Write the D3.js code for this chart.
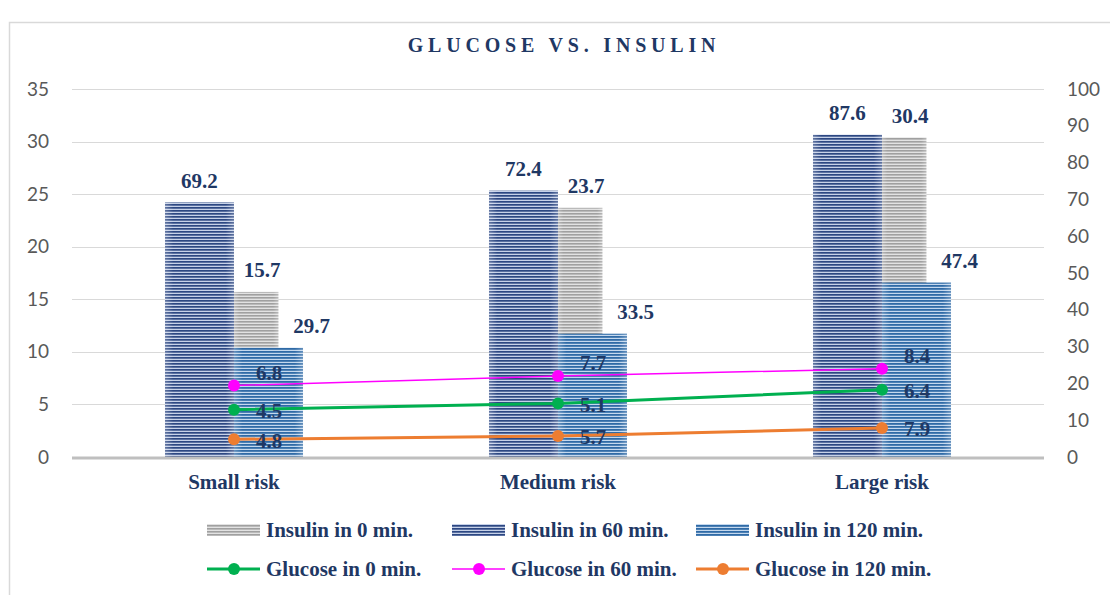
<!DOCTYPE html>
<html>
<head>
<meta charset="utf-8">
<script src="https://cdn.jsdelivr.net/npm/d3@7"></script>
<style>
  html, body { margin: 0; padding: 0; background: #ffffff; }
  svg { display: block; }
</style>
</head>
<body>
<svg id="chart" width="1110" height="595"></svg>
<script>
// ---- data ----
const categories = ["Small risk", "Medium risk", "Large risk"];
const insulin0 = [15.7, 23.7, 30.4];     // primary (left) axis
const insulin60 = [69.2, 72.4, 87.6];    // secondary (right) axis
const insulin120 = [29.7, 33.5, 47.4];   // secondary (right) axis
const glucose0 = [4.5, 5.1, 6.4];        // primary (left) axis
const glucose60 = [6.8, 7.7, 8.4];       // primary (left) axis
const glucose120 = [4.8, 5.7, 7.9];      // secondary (right) axis
const leftTicks = [0, 5, 10, 15, 20, 25, 30, 35];
const rightTicks = [0, 10, 20, 30, 40, 50, 60, 70, 80, 90, 100];
const titleText = "GLUCOSE VS. INSULIN";
const legendBars = ["Insulin in 0 min.", "Insulin in 60 min.", "Insulin in 120 min."];
const legendLines = ["Glucose in 0 min.", "Glucose in 60 min.", "Glucose in 120 min."];

// ---- layout ----
const W = 1110, H = 595;
const plot = { left: 72, right: 1044, top: 89, bottom: 457 };
const navy = "#1F3864";
const serif = "'Liberation Serif', 'Times New Roman', serif";
const sans = "Lato, 'Open Sans', sans-serif";

const svg = d3.select("#chart");
svg.append("rect").attr("width", W).attr("height", H).attr("fill", "#fff");
svg.append("rect").attr("x", 9.5).attr("y", 22.5).attr("width", W + 20).attr("height", H + 20)
  .attr("fill", "none").attr("stroke", "#D9D9D9").attr("stroke-width", 1.5);

// patterns
const defs = svg.append("defs");
function stripe(id, dark, light, darkH, period) {
  const p = defs.append("pattern").attr("id", id).attr("patternUnits", "userSpaceOnUse")
    .attr("width", 8).attr("height", period);
  p.append("rect").attr("width", 8).attr("height", period).attr("fill", light);
  p.append("rect").attr("width", 8).attr("height", darkH).attr("fill", dark);
}
stripe("pDark", "#2C4782", "#C6D1E8", 1.7, 3);
stripe("pGray", "#A0A0A0", "#E2E2E2", 1.6, 3);
stripe("pLight", "#2F6AA6", "#C4D8EE", 1.8, 3);
// soft edge shading
const g = defs.append("linearGradient").attr("id", "edge").attr("x1", 0).attr("x2", 1).attr("y1", 0).attr("y2", 0);
g.append("stop").attr("offset", "0%").attr("stop-color", "#fff").attr("stop-opacity", 0.25);
g.append("stop").attr("offset", "12%").attr("stop-color", "#fff").attr("stop-opacity", 0);
g.append("stop").attr("offset", "88%").attr("stop-color", "#fff").attr("stop-opacity", 0);
g.append("stop").attr("offset", "100%").attr("stop-color", "#fff").attr("stop-opacity", 0.25);

// scales
const x = d3.scaleBand().domain(categories).range([plot.left, plot.right]).padding(0);
const yL = d3.scaleLinear().domain([0, 35]).range([plot.bottom, plot.top]);
const yR = d3.scaleLinear().domain([0, 100]).range([plot.bottom, plot.top]);
const bw = x.bandwidth();
const cx = c => x(c) + bw / 2;
const wide = bw * 0.213;
const narrow = bw * 0.137;

// gridlines
svg.append("g").selectAll("line").data(leftTicks.filter(t => t > 0)).join("line")
  .attr("x1", plot.left).attr("x2", plot.right)
  .attr("y1", d => Math.round(yL(d)) + 0.5).attr("y2", d => Math.round(yL(d)) + 0.5)
  .attr("stroke", "#D9D9D9").attr("stroke-width", 1);

// left axis labels
const axL = svg.append("g").attr("transform", `translate(49,0)`)
  .call(d3.axisLeft(yL).tickValues(leftTicks).tickSize(0).tickPadding(0));
axL.select(".domain").remove();
axL.selectAll("text").attr("font-family", sans).attr("font-size", 19).attr("fill", "#595959");

// right axis labels
const axR = svg.append("g").attr("transform", `translate(1067,0)`)
  .call(d3.axisRight(yR).tickValues(rightTicks).tickSize(0).tickPadding(0));
axR.select(".domain").remove();
axR.selectAll("text").attr("font-family", sans).attr("font-size", 19).attr("fill", "#595959");

// bars
const bars = svg.append("g");
function drawBars(vals, scale, x0fn, w, fill) {
  const sel = bars.append("g");
  sel.selectAll("rect.b").data(vals).join("rect").attr("class", "b")
    .attr("x", (d, i) => x0fn(categories[i])).attr("width", w)
    .attr("y", d => scale(d)).attr("height", d => plot.bottom - scale(d))
    .attr("fill", `url(#${fill})`);
  sel.selectAll("rect.e").data(vals).join("rect").attr("class", "e")
    .attr("x", (d, i) => x0fn(categories[i])).attr("width", w)
    .attr("y", d => scale(d)).attr("height", d => plot.bottom - scale(d))
    .attr("fill", "url(#edge)");
}
drawBars(insulin60, yR, c => cx(c) - wide, wide, "pDark");
drawBars(insulin0, yL, c => cx(c), narrow, "pGray");
drawBars(insulin120, yR, c => cx(c), wide, "pLight");

// baseline
svg.append("line").attr("x1", plot.left).attr("x2", plot.right)
  .attr("y1", plot.bottom + 1).attr("y2", plot.bottom + 1)
  .attr("stroke", "#BFBFBF").attr("stroke-width", 3);

// bar labels
function barLabels(vals, scale, xfn) {
  svg.append("g").selectAll("text").data(vals).join("text")
    .attr("x", (d, i) => xfn(categories[i])).attr("y", d => scale(d) - 22)
    .attr("dy", "0.35em").attr("text-anchor", "middle")
    .attr("font-family", serif).attr("font-weight", "bold").attr("font-size", 21)
    .attr("fill", navy).text(d => d.toFixed(1));
}
barLabels(insulin60, yR, c => cx(c) - wide / 2);
barLabels(insulin0, yL, c => cx(c) + narrow / 2 + 6);
barLabels(insulin120, yR, c => cx(c) + wide / 2 + 43);

// lines
const lineSeries = [
  { vals: glucose0, scale: yL, color: "#00B050", width: 3, dy: 1 },
  { vals: glucose60, scale: yL, color: "#FF00FF", width: 1.5, dy: -13 },
  { vals: glucose120, scale: yR, color: "#ED7D31", width: 3, dy: 1 }
];
lineSeries.forEach(s => {
  const line = d3.line().x((d, i) => cx(categories[i])).y(d => s.scale(d));
  svg.append("path").datum(s.vals).attr("d", line).attr("fill", "none")
    .attr("stroke", s.color).attr("stroke-width", s.width);
  svg.append("g").selectAll("circle").data(s.vals).join("circle")
    .attr("cx", (d, i) => cx(categories[i])).attr("cy", d => s.scale(d)).attr("r", 6)
    .attr("fill", s.color);
});
lineSeries.forEach(s => {
  svg.append("g").selectAll("text").data(s.vals).join("text")
    .attr("x", (d, i) => cx(categories[i]) + 35).attr("y", d => s.scale(d) + s.dy)
    .attr("dy", "0.35em").attr("text-anchor", "middle")
    .attr("font-family", serif).attr("font-weight", "bold").attr("font-size", 21)
    .attr("fill", navy).text(d => d.toFixed(1));
});

// category labels
svg.append("g").selectAll("text").data(categories).join("text")
  .attr("x", d => cx(d)).attr("y", 489).attr("text-anchor", "middle")
  .attr("font-family", serif).attr("font-weight", "bold").attr("font-size", 21)
  .attr("fill", navy).text(d => d);

// title
svg.append("text").attr("x", 564).attr("y", 52).attr("text-anchor", "middle")
  .attr("font-family", serif).attr("font-weight", "bold").attr("font-size", 20)
  .attr("letter-spacing", 4.8).attr("fill", navy).text(titleText);

// legend
const legX = [207, 452, 696];
const barFills = ["pGray", "pDark", "pLight"];
const leg1 = svg.append("g");
legendBars.forEach((t, i) => {
  leg1.append("rect").attr("x", legX[i]).attr("y", 524).attr("width", 53).attr("height", 12)
    .attr("fill", `url(#${barFills[i]})`);
  leg1.append("text").attr("x", legX[i] + 59).attr("y", 537)
    .attr("font-family", serif).attr("font-weight", "bold").attr("font-size", 21)
    .attr("fill", navy).text(t);
});
const leg2 = svg.append("g");
legendLines.forEach((t, i) => {
  const s = lineSeries[i];
  leg2.append("line").attr("x1", legX[i]).attr("x2", legX[i] + 53).attr("y1", 569).attr("y2", 569)
    .attr("stroke", s.color).attr("stroke-width", s.width);
  leg2.append("circle").attr("cx", legX[i] + 27).attr("cy", 569).attr("r", 6).attr("fill", s.color);
  leg2.append("text").attr("x", legX[i] + 59).attr("y", 576)
    .attr("font-family", serif).attr("font-weight", "bold").attr("font-size", 21)
    .attr("fill", navy).text(t);
});
</script>
</body>
</html>
